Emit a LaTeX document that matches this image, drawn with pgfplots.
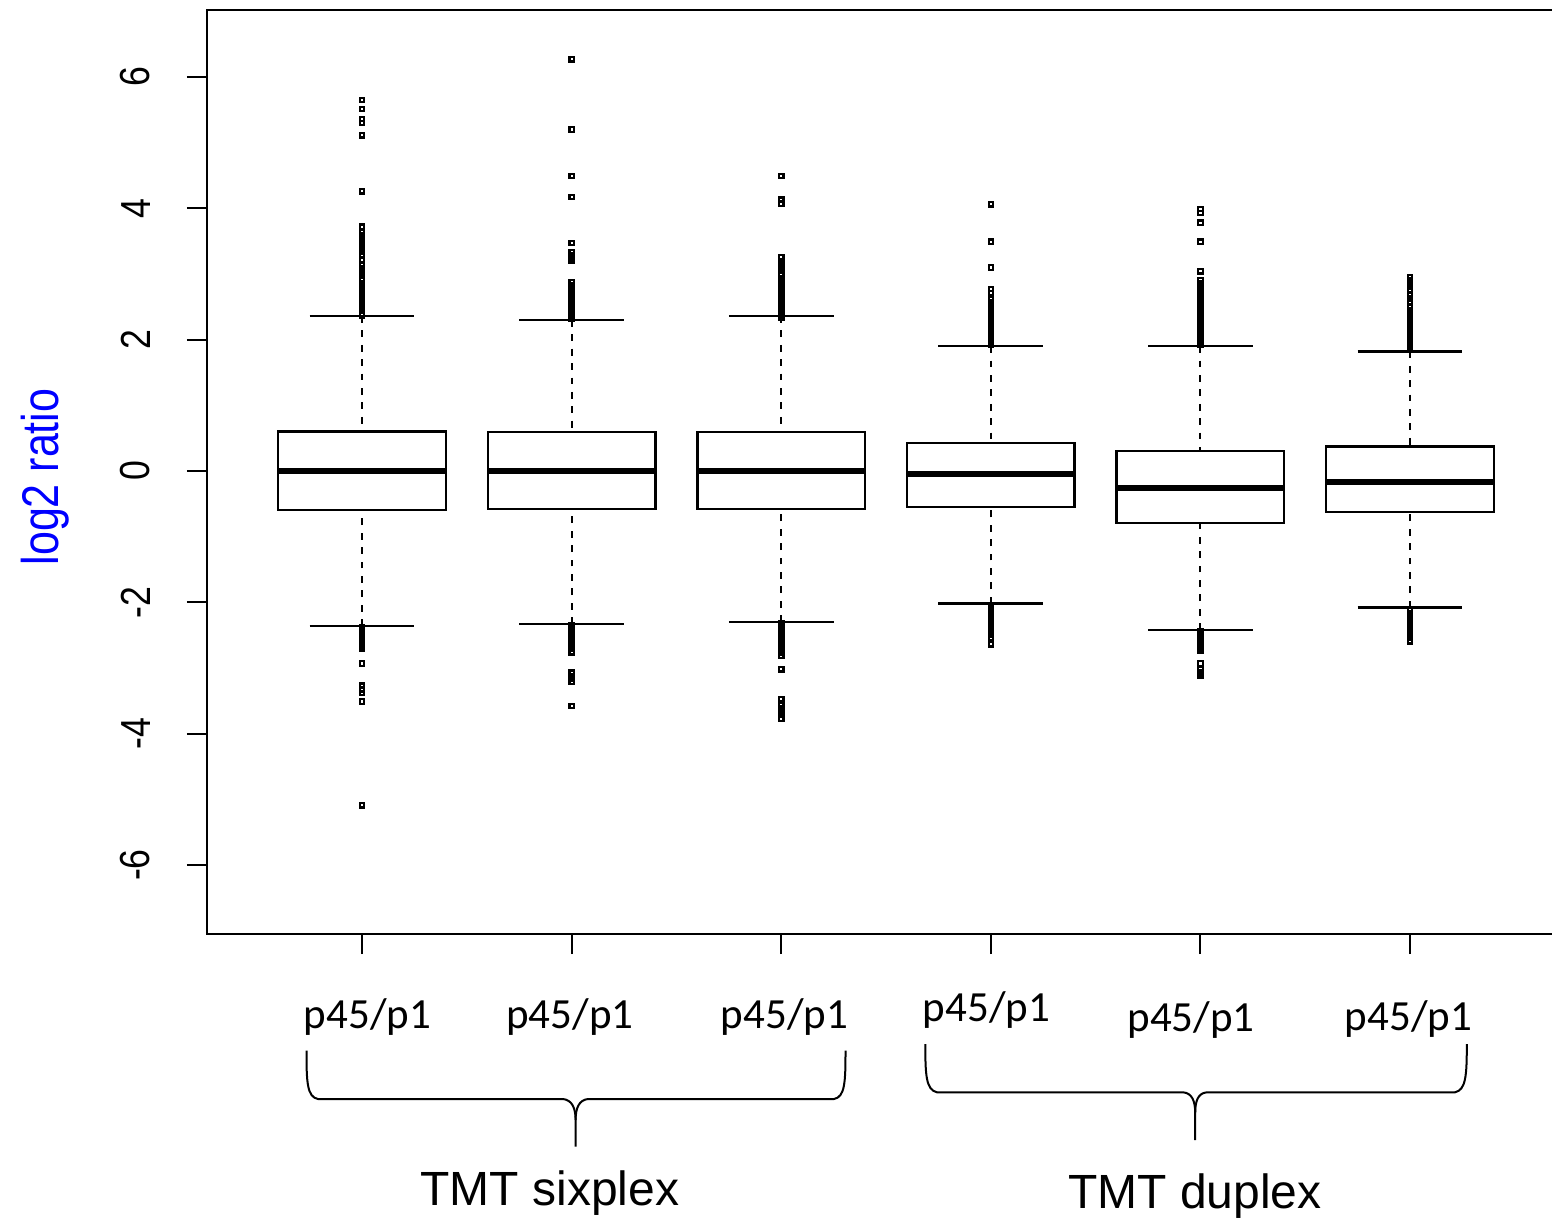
\documentclass[border=0pt]{standalone}
\usepackage{graphicx}
\usepackage{pgfplots}
\pgfplotsset{compat=1.18}
\usepgfplotslibrary{statistics}
\usepackage{fontspec}
\setmainfont{Liberation Sans}
\newfontfamily\calfont{Carlito}
\newcommand\tl[1]{\fontsize{10.5}{12}\selectfont\scalebox{0.85}[1]{#1}}

\pgfplotsset{
  rbox/.style={
    black, solid,
    mark=square, mark size=0.55pt,
    mark options={solid, black, line width=0.55pt},
    boxplot/draw direction=y,
    boxplot/box extend=0.8,
    boxplot/whisker extend=0.5,
    boxplot/every box/.style={draw=black, line width=0.6pt},
    boxplot/every median/.style={draw=black, line width=1.6pt},
    boxplot/draw/lower whisker/.code={%
      \draw[black, line width=0.5pt, dash pattern=on 1.7pt off 1.9pt]
        (boxplot box cs:\pgfplotsboxplotvalue{lower whisker},0.5) --
        (boxplot box cs:\pgfplotsboxplotvalue{lower quartile},0.5);
      \draw[black, line width=0.6pt]
        (boxplot whisker cs:\pgfplotsboxplotvalue{lower whisker},0) --
        (boxplot whisker cs:\pgfplotsboxplotvalue{lower whisker},1);
    },
    boxplot/draw/upper whisker/.code={%
      \draw[black, line width=0.5pt, dash pattern=on 1.7pt off 1.9pt]
        (boxplot box cs:\pgfplotsboxplotvalue{upper whisker},0.5) --
        (boxplot box cs:\pgfplotsboxplotvalue{upper quartile},0.5);
      \draw[black, line width=0.6pt]
        (boxplot whisker cs:\pgfplotsboxplotvalue{upper whisker},0) --
        (boxplot whisker cs:\pgfplotsboxplotvalue{upper whisker},1);
    },
  },
}

\begin{document}
\begin{tikzpicture}
\useasboundingbox (0,0) rectangle (388pt,-304.5pt);
\begin{axis}[
  at={(51.75pt,-233.5pt)}, anchor=south west,
  scale only axis, width=336.5pt, height=231pt,
  xmin=0.2605, xmax=6.682, ymin=-7.05, ymax=7.02,
  xtick={1,2,3,4,5,6}, xticklabels={,,,,,},
  ytick={-6,-4,-2,0,2,4,6},
  yticklabels={\tl{-6},\tl{-4},\tl{-2},\tl{0},\tl{2},\tl{4},\tl{6}},
  tick align=outside, tick pos=left,
  major tick length=5pt,
  axis line style={line width=0.6pt},
  tick style={line width=0.5pt, black},
  yticklabel style={xshift=-9pt, rotate=90, anchor=south, inner sep=0pt},
  ylabel={\scalebox{1}[1.2]{log2 ratio}},
  ylabel style={font=\fontsize{10.75}{13}\selectfont, text=blue, at={(axis description cs:-0.1203,0.4946)}, anchor=center},
]
% Box 1
\addplot[rbox, boxplot prepared={draw position=1, median=0, lower quartile=-0.59, upper quartile=0.60, lower whisker=-2.36, upper whisker=2.36}]
table[row sep=\\, y index=0] {data\\
5.65\\5.51\\5.36\\5.30\\5.11\\4.26\\3.72\\3.64\\3.59\\3.54\\3.49\\3.44\\3.39\\3.34\\3.29\\3.21\\
3.13\\3.08\\3.03\\2.98\\2.93\\2.90\\2.84\\2.79\\2.74\\2.69\\2.64\\2.59\\2.54\\2.49\\2.44\\2.39\\2.37\\
-2.38\\-2.43\\-2.48\\-2.53\\-2.55\\-2.58\\-2.63\\-2.68\\-2.71\\-2.93\\-3.27\\-3.33\\-3.38\\-3.51\\-5.09\\};
% Box 2
\addplot[rbox, boxplot prepared={draw position=2, median=0, lower quartile=-0.58, upper quartile=0.59, lower whisker=-2.33, upper whisker=2.30}]
table[row sep=\\, y index=0] {data\\
6.27\\5.20\\4.49\\4.17\\3.47\\3.33\\3.28\\3.23\\3.20\\2.87\\2.82\\2.77\\2.72\\2.67\\2.62\\2.57\\2.52\\2.47\\2.42\\2.37\\2.32\\
-2.35\\-2.40\\-2.45\\-2.50\\-2.55\\-2.60\\-2.65\\-2.70\\-2.75\\-2.77\\-3.07\\-3.12\\-3.17\\-3.21\\-3.58\\};
% Box 3
\addplot[rbox, boxplot prepared={draw position=3, median=0, lower quartile=-0.58, upper quartile=0.59, lower whisker=-2.30, upper whisker=2.36}]
table[row sep=\\, y index=0] {data\\
4.49\\4.13\\4.07\\3.25\\3.20\\3.15\\3.10\\3.06\\2.98\\2.93\\2.88\\2.83\\2.78\\2.73\\2.68\\2.63\\2.58\\2.53\\2.48\\2.43\\2.38\\2.34\\
-2.32\\-2.37\\-2.42\\-2.47\\-2.52\\-2.57\\-2.62\\-2.67\\-2.72\\-2.77\\-2.82\\-3.02\\-3.47\\-3.56\\-3.61\\-3.66\\-3.71\\-3.77\\};
% Box 4
\addplot[rbox, boxplot prepared={draw position=4, median=-0.05, lower quartile=-0.55, upper quartile=0.43, lower whisker=-2.02, upper whisker=1.90}]
table[row sep=\\, y index=0] {data\\
4.06\\3.49\\3.10\\2.77\\2.71\\2.62\\2.57\\2.52\\2.47\\2.42\\2.40\\2.37\\2.32\\2.27\\2.22\\2.17\\2.12\\2.07\\2.02\\1.97\\1.92\\
-2.04\\-2.09\\-2.14\\-2.19\\-2.24\\-2.29\\-2.34\\-2.39\\-2.44\\-2.49\\-2.54\\-2.56\\-2.64\\};
% Box 5
\addplot[rbox, boxplot prepared={draw position=5, median=-0.26, lower quartile=-0.79, upper quartile=0.30, lower whisker=-2.42, upper whisker=1.90}]
table[row sep=\\, y index=0] {data\\
3.99\\3.93\\3.78\\3.49\\3.04\\2.91\\2.86\\2.81\\2.76\\2.71\\2.66\\2.61\\2.56\\2.51\\2.46\\2.41\\2.36\\2.31\\2.26\\2.21\\2.16\\2.11\\2.06\\2.01\\1.96\\1.92\\
-2.44\\-2.49\\-2.54\\-2.59\\-2.64\\-2.69\\-2.73\\-2.93\\-3.02\\-3.07\\-3.11\\};
% Box 6
\addplot[rbox, boxplot prepared={draw position=6, median=-0.17, lower quartile=-0.62, upper quartile=0.37, lower whisker=-2.08, upper whisker=1.82}]
table[row sep=\\, y index=0] {data\\
2.95\\2.90\\2.85\\2.80\\2.76\\2.68\\2.63\\2.58\\2.50\\2.45\\2.40\\2.35\\2.30\\2.25\\2.20\\2.15\\2.10\\2.05\\2.00\\1.95\\1.90\\1.85\\
-2.12\\-2.17\\-2.22\\-2.27\\-2.32\\-2.37\\-2.40\\-2.43\\-2.48\\-2.53\\-2.58\\-2.60\\};
\end{axis}

\begin{scope}[x=0.25pt, y=-0.25pt]
  \begin{scope}[font=\calfont\fontsize{10.75}{13}\selectfont]
    \node[anchor=base, inner sep=0pt] at (367.5,1028) {p45/p1};
    \node[anchor=base, inner sep=0pt] at (570,1028) {p45/p1};
    \node[anchor=base, inner sep=0pt] at (784.5,1028) {p45/p1};
    \node[anchor=base, inner sep=0pt] at (986.5,1021) {p45/p1};
    \node[anchor=base, inner sep=0pt] at (1191,1031) {p45/p1};
    \node[anchor=base, inner sep=0pt] at (1408.5,1030) {p45/p1};
  \end{scope}
  \draw[line width=0.5pt]
    (306.5,1050.7) .. controls (306.5,1082) and (307,1097) .. (318,1099) -- (563,1099)
    .. controls (572,1100) and (575.6,1108) .. (575.6,1120) -- (575.6,1146.7);
  \draw[line width=0.5pt]
    (845.5,1050.7) .. controls (845.5,1082) and (845,1097) .. (834,1099) -- (588,1099)
    .. controls (579,1100) and (575.6,1108) .. (575.6,1120);
  \draw[line width=0.5pt]
    (925.3,1044) .. controls (925.3,1075) and (926,1090) .. (937,1092.3) -- (1183,1092.3)
    .. controls (1192,1093) and (1195.2,1101) .. (1195.2,1113) -- (1195.2,1140);
  \draw[line width=0.5pt]
    (1466.8,1044) .. controls (1466.8,1075) and (1466,1090) .. (1455,1092.3) -- (1207,1092.3)
    .. controls (1198,1093) and (1195.2,1101) .. (1195.2,1113);
  \node[anchor=base, inner sep=0pt, font=\fontsize{12}{14}\selectfont] at (550,1205) {TMT sixplex};
  \node[anchor=base, inner sep=0pt, font=\fontsize{12}{14}\selectfont] at (1195,1208) {TMT duplex};
\end{scope}
\end{tikzpicture}
\end{document}
